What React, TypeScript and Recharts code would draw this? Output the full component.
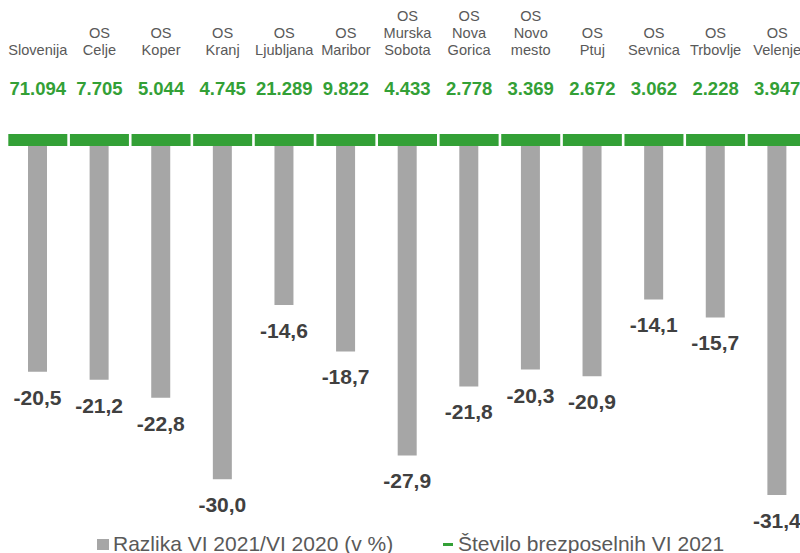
import React from 'react';
import { ComposedChart, Bar, Line, XAxis, YAxis, LabelList, Legend } from 'recharts';

const categories = [
  'Slovenija', 'OS\nCelje', 'OS\nKoper', 'OS\nKranj', 'OS\nLjubljana', 'OS\nMaribor',
  'OS\nMurska\nSobota', 'OS\nNova\nGorica', 'OS\nNovo\nmesto', 'OS\nPtuj', 'OS\nSevnica',
  'OS\nTrbovlje', 'OS\nVelenje',
];
const razlika = [-20.5, -21.2, -22.8, -30.0, -14.6, -18.7, -27.9, -21.8, -20.3, -20.9, -14.1, -15.7, -31.4];
const stevilo = [71094, 7705, 5044, 4745, 21289, 9822, 4433, 2778, 3369, 2672, 3062, 2228, 3947];
const yDomain = [-36, 0];

const data = categories.map((c, i) => ({ cat: c, razlika: razlika[i], stevilo: stevilo[i], base: 0 }));

const FONT = '"Liberation Sans", Arial, sans-serif';
const GREEN = '#33a036';
const GRAY = '#a6a6a6';

const fmtThousands = (v: number) => String(v).replace(/\B(?=(\d{3})+(?!\d))/g, '.');
const fmtPct = (v: number) => v.toFixed(1).replace('.', ',');

const CatTick = (props: any) => {
  const { x, y, payload } = props;
  const lines = String(payload.value).split('\n');
  const n = lines.length;
  return (
    <g>
      {lines.map((l, i) => (
        <text key={i} x={x} y={y - 85 - (n - 1 - i) * 17} textAnchor="middle" fontSize={14.6}
          fill="#595959" fontFamily={FONT}>{l}</text>
      ))}
    </g>
  );
};

const GreenDot = (props: any) => {
  const { cx, cy } = props;
  if (cx == null || cy == null) return null;
  return <rect x={cx - 29.5} y={cy - 6} width={59} height={12} fill={GREEN} />;
};

const BarValueLabel = (props: any) => {
  const { x, y, width, height, value } = props;
  const bottom = Math.max(y, y + height);
  return (
    <text x={x + width / 2} y={bottom + 33} textAnchor="middle" fontSize={21} fontWeight="bold"
      fill="#404040" fontFamily={FONT}>{fmtPct(value)}</text>
  );
};

const GreenValueLabel = (props: any) => {
  const { x, y, value } = props;
  return (
    <text x={x} y={y - 45.5} textAnchor="middle" fontSize={18.5} fontWeight="bold"
      fill={GREEN} fontFamily={FONT}>{fmtThousands(value)}</text>
  );
};

const LegendContent = (props: any) => {
  const payload = props.payload || [];
  const bar = payload.find((p: any) => p.dataKey === 'razlika');
  const line = payload.find((p: any) => p.dataKey === 'base');
  const txt: React.CSSProperties = { position: 'absolute', top: 0, fontSize: 21, lineHeight: '21px', color: '#595959', fontFamily: FONT, whiteSpace: 'nowrap' };
  return (
    <div style={{ position: 'relative', width: 800, height: 21 }}>
      <div style={{ position: 'absolute', left: 97, top: 6, width: 12, height: 11, background: GRAY }} />
      <span style={{ ...txt, left: 113 }}>{bar ? bar.value : ''}</span>
      <div style={{ position: 'absolute', left: 443, top: 9.5, width: 10, height: 3, background: GREEN }} />
      <span style={{ ...txt, left: 458 }}>{line ? line.value : ''}</span>
    </div>
  );
};

export default function App() {
  return (
    <div style={{ position: 'absolute', left: 0, top: 0, width: 800, height: 553, overflow: 'hidden', background: '#fff' }}>
      <ComposedChart width={810} height={553} data={data}
        margin={{ top: 8, right: 2, bottom: 6, left: 7 }} style={{ fontFamily: FONT }}>
        <XAxis dataKey="cat" orientation="top" height={132} axisLine={false} tickLine={false}
          tickSize={0} tickMargin={0} interval={0} tick={<CatTick />} />
        <YAxis hide domain={yDomain} />
        <Legend verticalAlign="middle" align="center" layout="horizontal"
          wrapperStyle={{ top: 533, left: 0, width: 800, height: 21 }} content={<LegendContent />} />
        <Bar dataKey="razlika" name="Razlika VI 2021/VI 2020 (v %)" fill={GRAY} barSize={19} isAnimationActive={false}>
          <LabelList dataKey="razlika" content={<BarValueLabel />} />
        </Bar>
        <Line dataKey="base" name="Število brezposelnih VI 2021" stroke="none" dot={<GreenDot />}
          activeDot={false} isAnimationActive={false} legendType="plainline">
          <LabelList dataKey="stevilo" content={<GreenValueLabel />} />
        </Line>
      </ComposedChart>
    </div>
  );
}
